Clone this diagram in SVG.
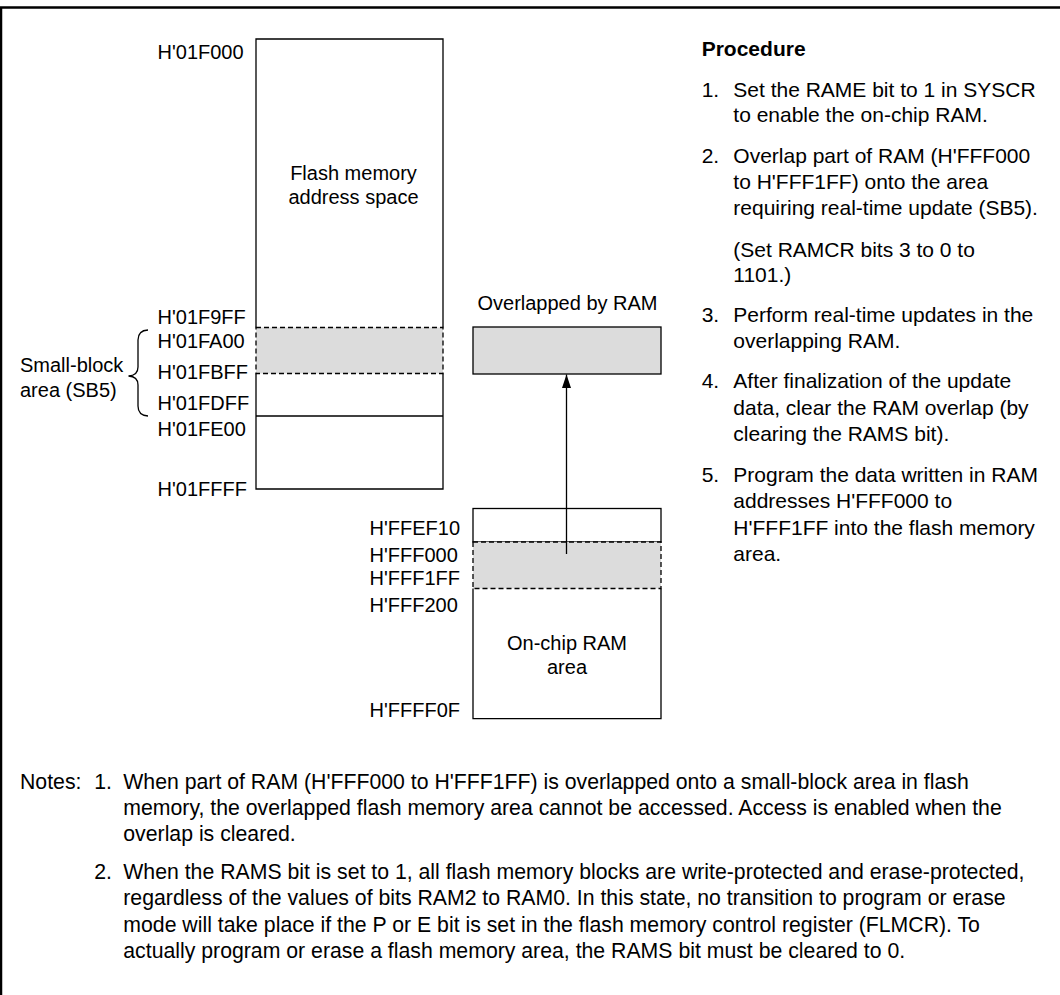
<svg xmlns="http://www.w3.org/2000/svg" width="1060" height="995" viewBox="0 0 1060 995">
<style>
text{font-family:"Liberation Sans",Arial,sans-serif;font-size:20px;fill:#000}
.p text{font-size:21px}
.n text{font-size:21.25px}
.b{font-weight:bold}
.c{text-anchor:middle}
.s{fill:none;stroke:#000;stroke-width:1.3}
.d{fill:#dcdcdc;stroke:#000;stroke-width:1.3;stroke-dasharray:5,3}
.g{fill:#dcdcdc;stroke:#000;stroke-width:1.3}
</style>
<defs>
<marker id="ah" markerWidth="14" markerHeight="10" refX="13.5" refY="5" orient="auto" markerUnits="userSpaceOnUse" viewBox="0 0 14 10">
<path d="M0,0.5 L13.5,5 L0,9.5 Z" fill="#000"/>
</marker>
</defs>
<path d="M1,995 L1,7.5 L1060,7.5" fill="none" stroke="#000" stroke-width="2.5"/>

<g id="flash">
<path class="s" d="M256,327.5 L256,39 L443,39 L443,327.5"/>
<rect class="d" x="256" y="327.5" width="187" height="46"/>
<path class="s" d="M256,373.5 L256,489 L443,489 L443,373.5"/>
<line class="s" x1="256" y1="416" x2="443" y2="416"/>
<text class="c" x="353.5" y="179.5">Flash memory</text>
<text class="c" x="353.5" y="204">address space</text>
</g>

<g id="flash-labels">
<text x="157.5" y="59.3">H'01F000</text>
<text x="157.5" y="324">H'01F9FF</text>
<text x="157.5" y="347.7">H'01FA00</text>
<text x="157.5" y="379.3">H'01FBFF</text>
<text x="157.5" y="410">H'01FDFF</text>
<text x="157.5" y="436">H'01FE00</text>
<text x="157.5" y="495.7">H'01FFFF</text>
</g>

<g id="small-block">
<path class="s" d="M148,330 Q138,330.5 138,340 L138,367 Q138,375.5 128.5,376 Q138,376.5 138,385 L138,406 Q138,415.5 148,416"/>
<text x="20" y="372.3">Small-block</text>
<text x="20" y="396.7">area (SB5)</text>
</g>

<g id="overlapped">
<text class="c" x="567.5" y="310">Overlapped by RAM</text>
<rect class="g" x="473" y="327" width="188" height="47"/>
</g>

<g id="ram">
<rect class="s" x="473" y="508.5" width="188" height="33.5"/>
<rect class="d" x="473" y="542" width="188" height="46.5"/>
<path class="s" d="M473,588.5 L473,718.7 L661,718.7 L661,588.5"/>
<text class="c" x="567" y="650">On-chip RAM</text>
<text class="c" x="567" y="674.3">area</text>
</g>

<g id="ram-labels">
<text x="369.5" y="535">H'FFEF10</text>
<text x="369.5" y="561.7">H'FFF000</text>
<text x="369.5" y="585">H'FFF1FF</text>
<text x="369.5" y="611.7">H'FFF200</text>
<text x="369.5" y="717.3">H'FFFF0F</text>
</g>

<g id="connectors">
<line x1="566.5" y1="554" x2="566.5" y2="374.5" stroke="#000" stroke-width="1.3" marker-end="url(#ah)"/>
</g>

<g id="procedure" class="p">
<text class="b" x="701.7" y="56">Procedure</text>
<text x="701.7" y="96.5">1.</text>
<text x="733.3" y="96.5">Set the RAME bit to 1 in SYSCR</text>
<text x="733.3" y="122">to enable the on-chip RAM.</text>
<text x="701.7" y="163.3">2.</text>
<text x="733.3" y="163.3">Overlap part of RAM (H'FFF000</text>
<text x="733.3" y="189.3">to H'FFF1FF) onto the area</text>
<text x="733.3" y="215">requiring real-time update (SB5).</text>
<text x="733.3" y="256.7">(Set RAMCR bits 3 to 0 to</text>
<text x="733.3" y="282">1101.)</text>
<text x="701.7" y="321.7">3.</text>
<text x="733.3" y="321.7">Perform real-time updates in the</text>
<text x="733.3" y="348">overlapping RAM.</text>
<text x="701.7" y="388.3">4.</text>
<text x="733.3" y="388.3">After finalization of the update</text>
<text x="733.3" y="414.5">data, clear the RAM overlap (by</text>
<text x="733.3" y="440.7">clearing the RAMS bit).</text>
<text x="701.7" y="481.7">5.</text>
<text x="733.3" y="481.7">Program the data written in RAM</text>
<text x="733.3" y="508.3">addresses H'FFF000 to</text>
<text x="733.3" y="535">H'FFF1FF into the flash memory</text>
<text x="733.3" y="560.7">area.</text>
</g>

<g id="notes" class="n">
<text x="20" y="789.3">Notes:</text>
<text x="94.3" y="789.3">1.</text>
<text x="123.3" y="789.3">When part of RAM (H'FFF000 to H'FFF1FF) is overlapped onto a small-block area in flash</text>
<text x="123.3" y="815">memory, the overlapped flash memory area cannot be accessed. Access is enabled when the</text>
<text x="123.3" y="841">overlap is cleared.</text>
<text x="94.3" y="879.3">2.</text>
<text x="123.3" y="879.3">When the RAMS bit is set to 1, all flash memory blocks are write-protected and erase-protected,</text>
<text x="123.3" y="905">regardless of the values of bits RAM2 to RAM0. In this state, no transition to program or erase</text>
<text x="123.3" y="931.7">mode will take place if the P or E bit is set in the flash memory control register (FLMCR). To</text>
<text x="123.3" y="958.3">actually program or erase a flash memory area, the RAMS bit must be cleared to 0.</text>
</g>
</svg>
